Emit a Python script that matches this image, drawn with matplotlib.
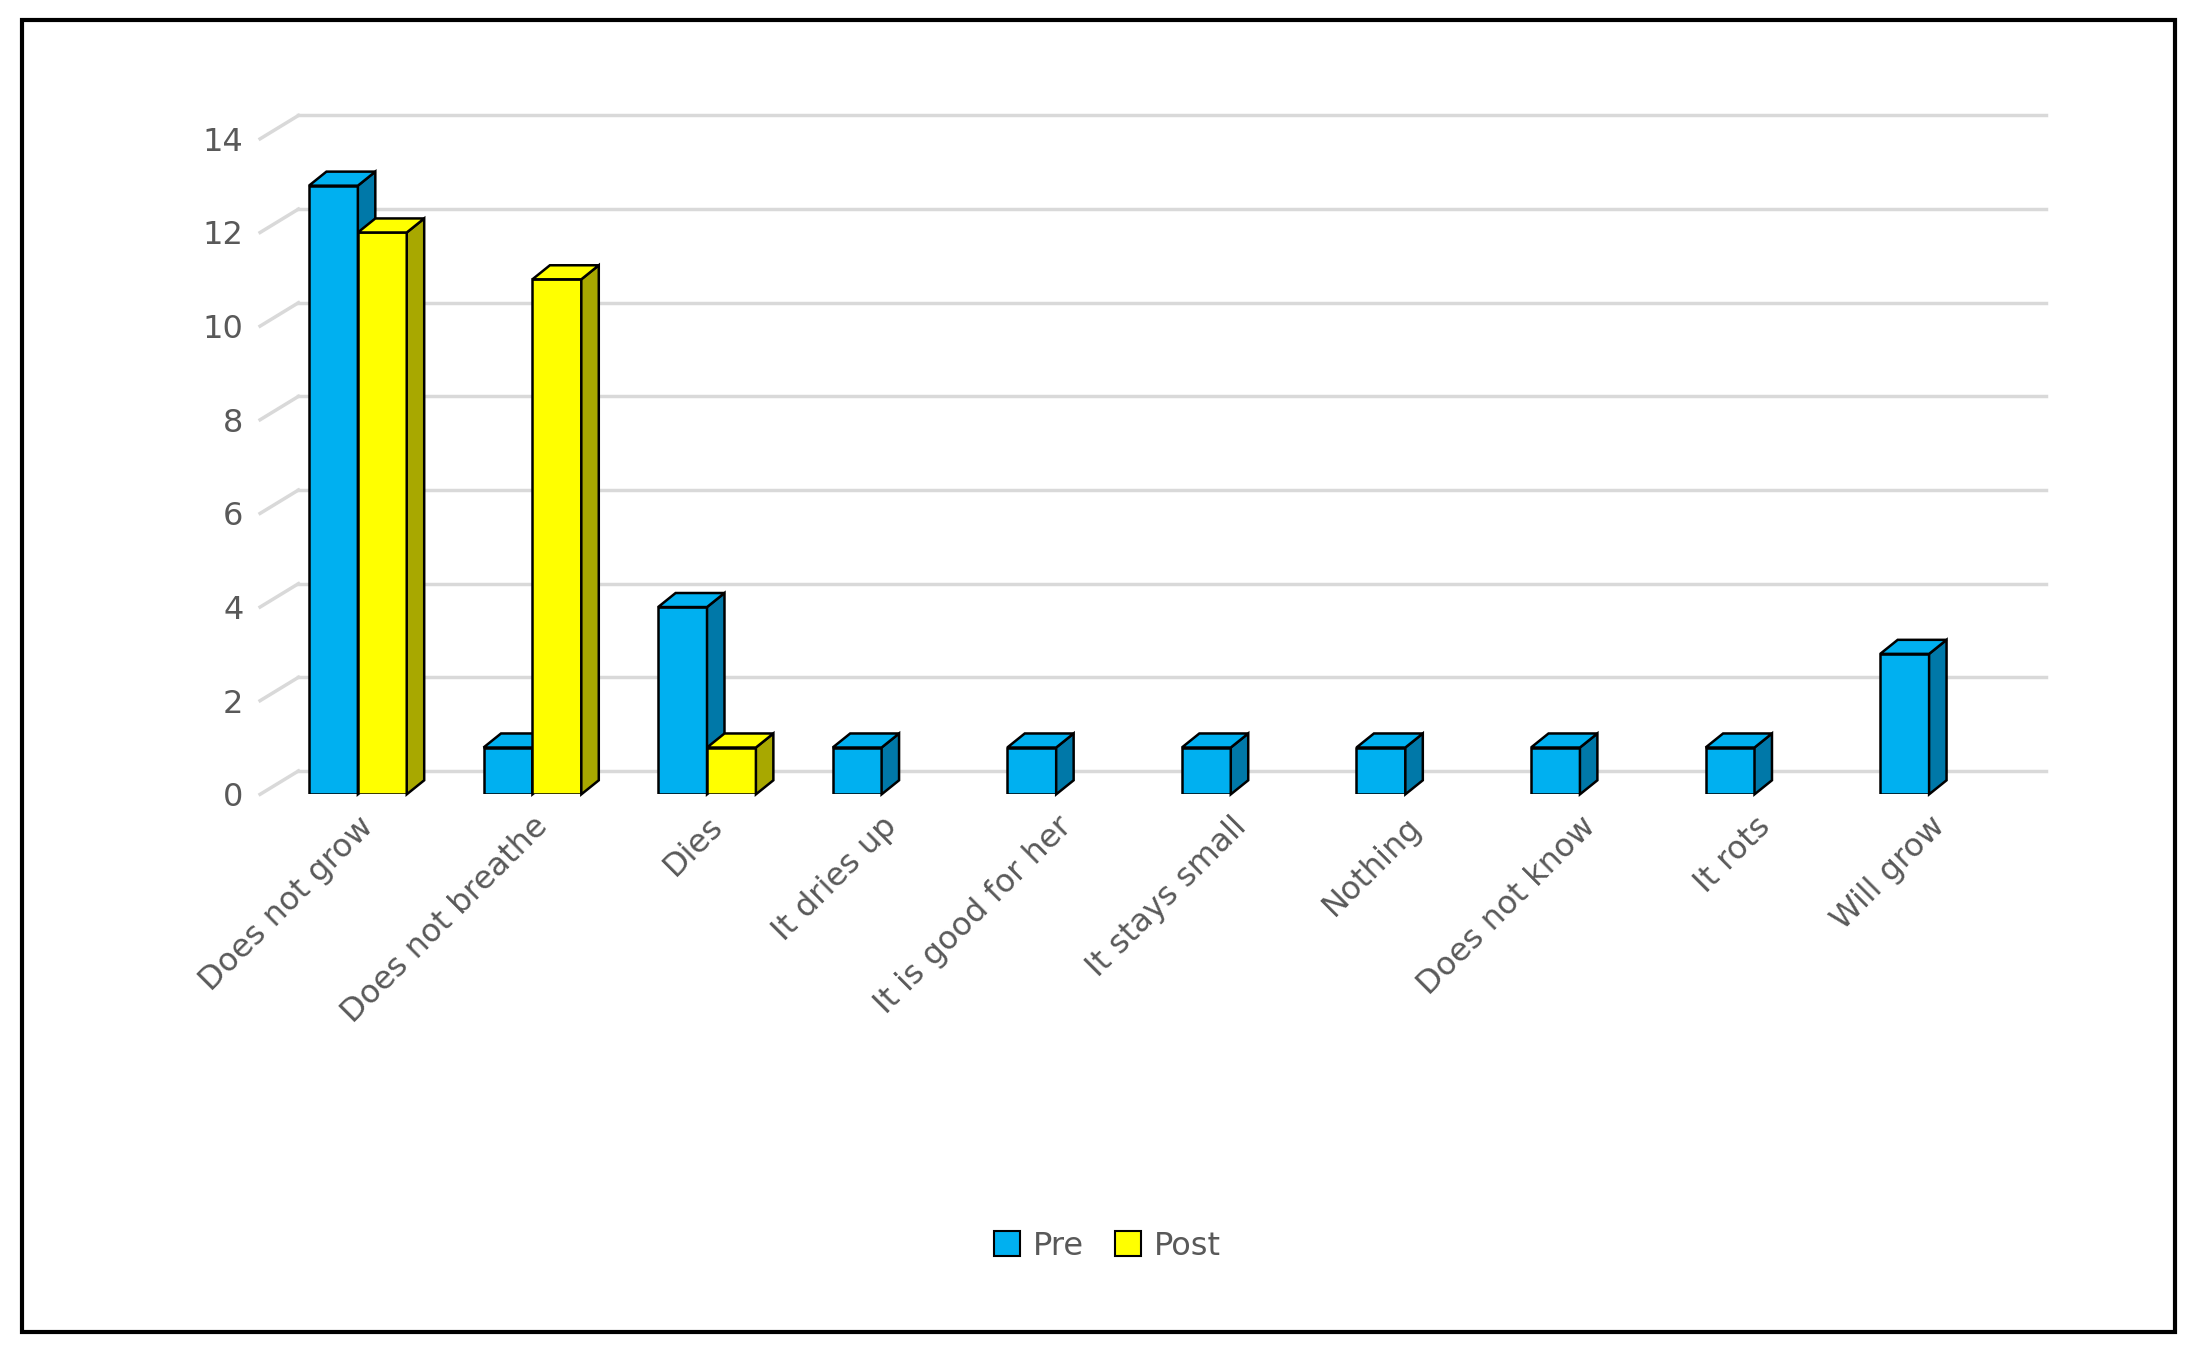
import matplotlib
matplotlib.use("Agg")
import matplotlib.pyplot as plt
from matplotlib.patches import Polygon, Rectangle

categories = ["Does not grow", "Does not breathe", "Dies", "It dries up", "It is good for her",
              "It stays small", "Nothing", "Does not know", "It rots", "Will grow"]
pre = [13, 1, 4, 1, 1, 1, 1, 1, 1, 3]
post = [12, 11, 1, 0, 0, 0, 0, 0, 0, 0]
yticks = [0, 2, 4, 6, 8, 10, 12, 14]

fig = plt.figure(figsize=(21.93, 13.59), dpi=100)
fig.patches.append(Rectangle((0.01, 0.02), 0.982, 0.965, transform=fig.transFigure,
                             fill=False, edgecolor="black", linewidth=3))
ax = fig.add_axes([0.1186, 0.4155, 0.8144, 0.503])
ax.set_xlim(-0.56, len(categories) - 1 + 0.67)
ax.set_ylim(0, 14.6)
for s in ax.spines.values():
    s.set_visible(False)

gdx, gdy = 0.22, 0.5
x_left = -0.56
for v in yticks:
    ax.plot([x_left + gdx, len(categories) - 1 + 0.67], [v + gdy, v + gdy],
            color="#d9d9d9", lw=2.5, zorder=0, clip_on=False)
    ax.plot([x_left, x_left + gdx], [v, v + gdy], color="#d9d9d9", lw=2.5, zorder=0, clip_on=False)

w, dx, dy = 0.28, 0.1, 0.3

def bar3d(x0, v, face, side, z):
    if v <= 0:
        return
    x1 = x0 + w
    ax.add_patch(Rectangle((x0, 0), w, v, facecolor=face, edgecolor="black", lw=1.8, zorder=z))
    ax.add_patch(Polygon([(x1, 0), (x1 + dx, dy), (x1 + dx, v + dy), (x1, v)],
                         facecolor=side, edgecolor="black", lw=1.8, zorder=z, clip_on=False))
    ax.add_patch(Polygon([(x0, v), (x0 + dx, v + dy), (x1 + dx, v + dy), (x1, v)],
                         facecolor=face, edgecolor="black", lw=1.8, zorder=z, clip_on=False))

for i in range(len(categories)):
    bar3d(i - w, pre[i], "#00B0F0", "#0078A8", 2 + i * 2)
    bar3d(i, post[i], "#FFFF00", "#A8A800", 3 + i * 2)

ax.set_yticks(yticks)
ax.set_yticklabels([str(v) for v in yticks], fontsize=23, color="#595959")
ax.set_xticks(range(len(categories)))
ax.set_xticklabels(categories, rotation=45, ha="right", rotation_mode="anchor",
                   fontsize=23, color="#595959")
ax.tick_params(length=0, pad=12)

from matplotlib.patches import Patch
fig.legend(handles=[Patch(facecolor="#00B0F0", edgecolor="black", lw=1.5, label="Pre"),
                    Patch(facecolor="#FFFF00", edgecolor="black", lw=1.5, label="Post")],
           loc="center", bbox_to_anchor=(0.505, 0.083), ncol=2, frameon=False,
           fontsize=23, labelcolor="#595959", handlelength=0.8, handleheight=0.8,
           columnspacing=1.0, handletextpad=0.4)
fig.savefig("out.png", dpi=100)
